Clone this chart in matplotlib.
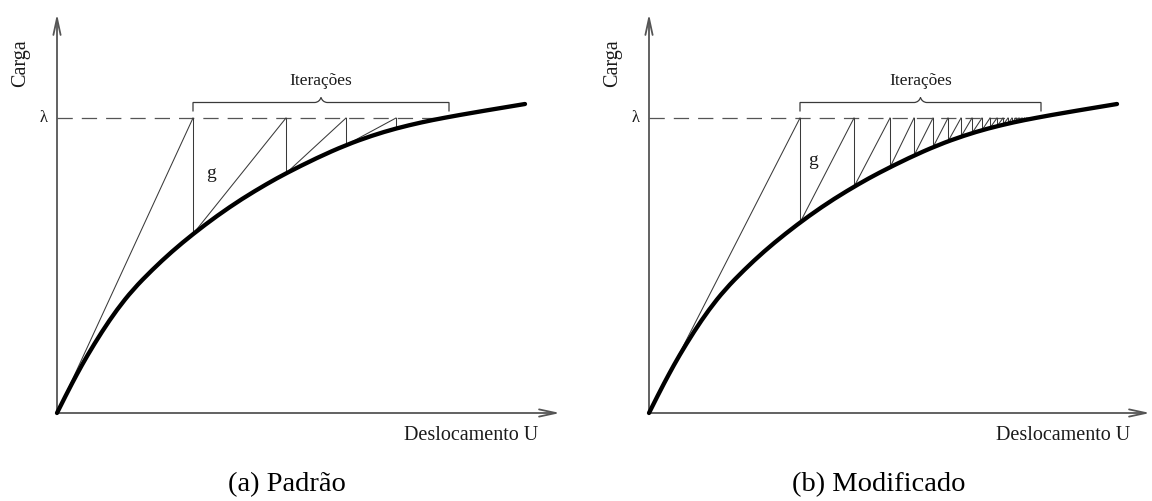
import numpy as np
import matplotlib
matplotlib.use("Agg")
import matplotlib.pyplot as plt
from matplotlib.patches import FancyArrowPatch, PathPatch
from matplotlib.path import Path

plt.rcParams['font.family'] = ['Liberation Serif', 'DejaVu Serif']
plt.rcParams['lines.scale_dashes'] = False

# Load-displacement curve (displacement U, load P), same for both panels
curve_u = [0, 10, 20, 30, 45, 60, 76, 95, 115, 136, 160, 185, 210, 229,
           260, 289, 315, 339, 365, 386, 420, 468]
curve_p = [0, 20, 39, 57, 81.5, 103.5, 123.5, 143, 161.6, 179, 197.2,
           214.2, 229.2, 239.7, 255.2, 268, 277.4, 284.6, 290.8, 295, 301.1,
           309]

# Target load level
load_level = 295
converged_u = 386

# Standard Newton-Raphson: displacement of each iteration
standard_u = [136, 229, 289, 339, 386]

# Modified Newton-Raphson: displacement of each iteration
modified_u = [151, 205, 241, 265, 284, 299, 312, 323, 333, 341, 348, 354,
              359, 363, 367, 370, 373, 375.5, 377.5, 379, 386]

panel_titles = ["(a) Padrão", "(b) Modificado"]
x_label = "Deslocamento U"
y_label = "Carga"
brace_label = "Iterações"
residual_label = "g"
level_label = "λ"

THIN = "#3a3a3a"
AXIS = "#555555"
TEXT = "#1a1a1a"

fig = plt.figure(figsize=(11.52, 5.01), dpi=100)


def curve_at(u):
    return float(np.interp(u, curve_u, curve_p))


def smooth_path(us, ps):
    """Quadratic B-spline path using the points as control vertices."""
    pts = list(zip(us, ps))
    verts = [pts[0]]
    codes = [Path.MOVETO]
    for i in range(1, len(pts) - 1):
        mid = ((pts[i][0] + pts[i + 1][0]) / 2, (pts[i][1] + pts[i + 1][1]) / 2)
        if i == len(pts) - 2:
            mid = pts[-1]
        verts += [pts[i], mid]
        codes += [Path.CURVE3, Path.CURVE3]
    return Path(verts, codes)


def draw_panel(ax, iter_u, xoff, x_arrow, g_pos, title):
    ax.set_xlim(-xoff, 576 - xoff)
    ax.set_ylim(-88, 413)
    ax.set_axis_off()

    # axes with open arrow heads
    for end in [(x_arrow, 0), (0, 399)]:
        arr = FancyArrowPatch((0, 0), end,
                              arrowstyle='->,head_length=12,head_width=2.6',
                              mutation_scale=1, shrinkA=0, shrinkB=0,
                              color=AXIS, lw=1.3)
        ax.add_patch(arr)

    # load level
    ax.plot([0, converged_u], [load_level, load_level], color=AXIS, lw=0.9,
            linestyle=(0, (11, 6.5)))

    # iteration lines: predictor up to the load level, then back to the curve
    prev_u, prev_p = 0, 0
    for u in iter_u:
        p = curve_at(u)
        ax.plot([prev_u, u], [prev_p, load_level], color=THIN, lw=0.75)
        if u < converged_u:
            ax.plot([u, u], [load_level, p], color=THIN, lw=0.75)
        prev_u, prev_p = u, p

    # equilibrium path
    ax.add_patch(PathPatch(smooth_path(curve_u, curve_p), fill=False,
                           edgecolor="black", lw=3.1, capstyle='round',
                           joinstyle='round', zorder=3))

    # brace over the iterations
    u0, u1 = iter_u[0], 392
    mid = 0.5 * (u0 + u1)
    yb, yt, ytip = 301.5, 310.5, 315.5
    verts = [(u0, yb), (u0, yt), (mid - 6, yt), (mid - 1.5, yt + 0.5),
             (mid, ytip), (mid + 1.5, yt + 0.5), (mid + 6, yt),
             (u1, yt), (u1, yb)]
    codes = [Path.MOVETO, Path.LINETO, Path.LINETO, Path.CURVE3, Path.CURVE3,
             Path.CURVE3, Path.CURVE3, Path.LINETO, Path.LINETO]
    ax.add_patch(PathPatch(Path(verts, codes), fill=False, edgecolor=THIN,
                           lw=0.9))
    ax.text(mid, 332, brace_label, ha='center', va='center', fontsize=12.5,
            color=TEXT)

    ax.text(g_pos[0], g_pos[1], residual_label, ha='center', va='center',
            fontsize=14, color=TEXT)
    ax.text(-13, load_level, level_label, ha='center', va='center',
            fontsize=12, color=TEXT)
    ax.text(-36, 350, y_label, ha='center', va='center', rotation=90,
            fontsize=14.5, color=TEXT)
    ax.text(481, -23, x_label, ha='right', va='center', fontsize=14.5,
            color=TEXT)
    ax.text(230, -72, title, ha='center', va='center', fontsize=20.5,
            color="black")


ax1 = fig.add_axes([0, 0, 0.5, 1])
draw_panel(ax1, standard_u, 57, 503, (154, 240), panel_titles[0])
ax2 = fig.add_axes([0.5, 0, 0.5, 1])
draw_panel(ax2, modified_u, 73, 501, (164, 253), panel_titles[1])

fig.savefig("out.png", dpi=100, facecolor="white")
